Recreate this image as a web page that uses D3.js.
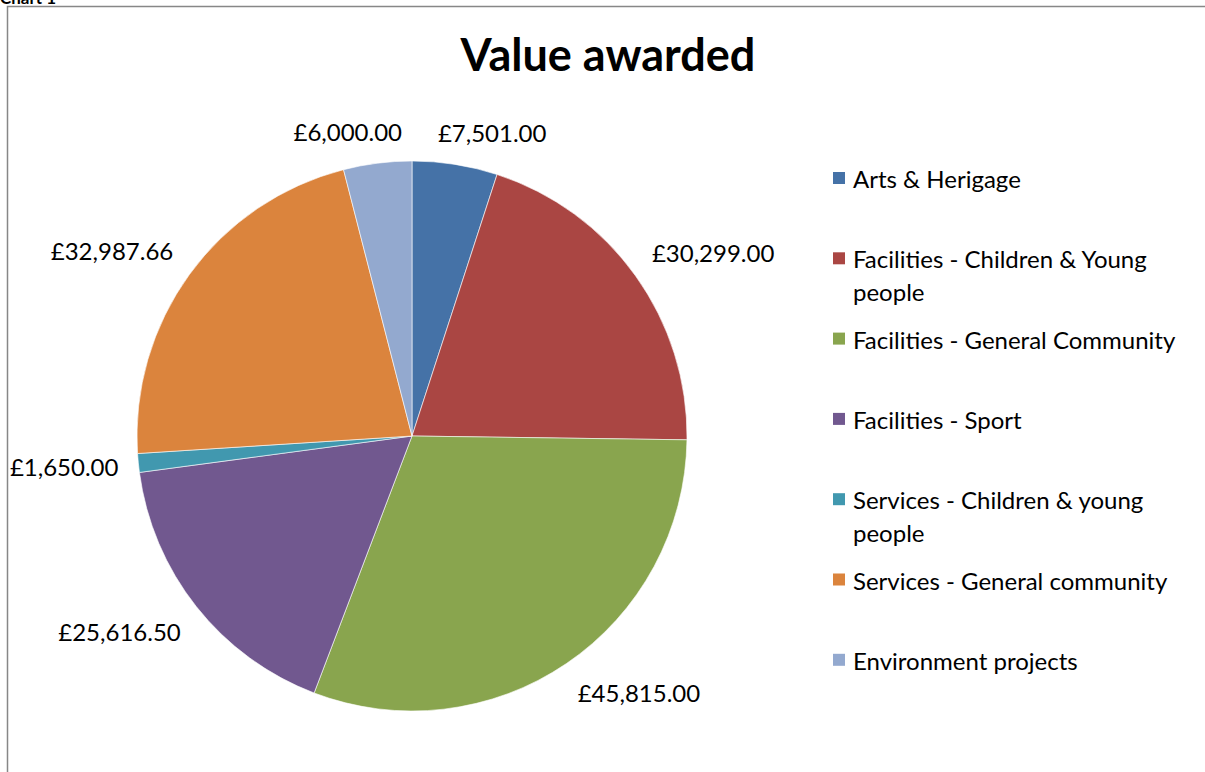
<!DOCTYPE html>
<html>
<head>
<meta charset="utf-8">
<script src="https://cdn.jsdelivr.net/npm/d3@7"></script>
<style>
  body { margin: 0; background: #fff; }
  svg { display: block; font-family: Lato, "Open Sans", sans-serif; }
</style>
</head>
<body>
<div id="chart"></div>
<script>
var categories = ["Arts & Herigage", "Facilities - Children & Young people", "Facilities - General Community",
    "Facilities - Sport", "Services - Children & young people", "Services - General community", "Environment projects"];
var values = [7501, 30299, 45815, 25616.5, 1650, 32987.66, 6000];
var colors = ["#4572A7", "#AA4643", "#89A54E", "#71588F", "#4198AF", "#DB843D", "#93A9CF"];

var width = 1205, height = 772;
var cx = 412, cy = 436, radius = 275;

var svg = d3.select("#chart").append("svg")
    .attr("width", width)
    .attr("height", height);

// sheet caption, mostly above the top of the shot
svg.append("text")
    .attr("x", 0).attr("y", 4)
    .attr("font-weight", "bold")
    .attr("font-size", 17)
    .text("Chart 1");

// chart border
svg.append("path")
    .attr("d", "M7.5," + height + "V6.5H" + width)
    .attr("fill", "none")
    .attr("stroke", "#878787")
    .attr("stroke-width", 1.5);

svg.append("text")
    .attr("x", 608).attr("y", 71)
    .attr("text-anchor", "middle")
    .attr("font-weight", "bold")
    .attr("font-size", 45)
    .attr("fill", "#000")
    .text("Value awarded");

var fmt = function (v) { return "£" + d3.format(",.2f")(v); };

var pie = d3.pie().sort(null).value(function (d) { return d; });
var arc = d3.arc().innerRadius(0).outerRadius(radius);
var arcs = pie(values);

var g = svg.append("g").attr("transform", "translate(" + cx + "," + cy + ")");

g.selectAll("path.slice")
    .data(arcs)
    .enter()
    .append("path")
    .attr("class", "slice")
    .attr("d", arc)
    .attr("fill", function (d, i) { return colors[i]; })
    .attr("stroke", "#fff")
    .attr("stroke-width", 0.6);

// outside-end data labels
var labels = g.selectAll("text.lbl")
    .data(arcs)
    .enter()
    .append("text")
    .attr("class", "lbl")
    .attr("font-size", 24)
    .attr("text-anchor", "middle")
    .attr("dominant-baseline", "central")
    .text(function (d) { return fmt(d.value); });

var clamp = function (v) { return Math.max(-1, Math.min(1, v)); };
labels.each(function (d) {
    var w = this.getComputedTextLength(), h = 24;
    var a = (d.startAngle + d.endAngle) / 2;
    var s = Math.sin(a), c = Math.cos(a);
    var px = s * (radius + 20), py = -c * (radius + 20);
    d3.select(this)
        .attr("x", px + clamp(s * 4) * w / 2)
        .attr("y", py - clamp(c * 1.7) * h / 2);
});

// legend
var legend = svg.append("g").attr("transform", "translate(833,178)");
var item = legend.selectAll("g")
    .data(categories)
    .enter()
    .append("g")
    .attr("transform", function (d, i) { return "translate(0," + (i * 80.3) + ")"; });

item.append("rect")
    .attr("x", 0).attr("y", -6)
    .attr("width", 12).attr("height", 12)
    .attr("fill", function (d, i) { return colors[i]; });

item.append("text")
    .attr("x", 20)
    .attr("font-size", 24)
    .attr("dominant-baseline", "central")
    .each(function (d) {
        var t = d3.select(this), words = d.split(" "), line = [];
        var ts = t.append("tspan").attr("x", 20).attr("dy", 0);
        words.forEach(function (w) {
            line.push(w);
            ts.text(line.join(" "));
            if (ts.node().getComputedTextLength() > 345 && line.length > 1) {
                line.pop();
                ts.text(line.join(" "));
                line = [w];
                ts = t.append("tspan").attr("x", 20).attr("dy", 33).text(w);
            }
        });
    });
</script>
</body>
</html>
